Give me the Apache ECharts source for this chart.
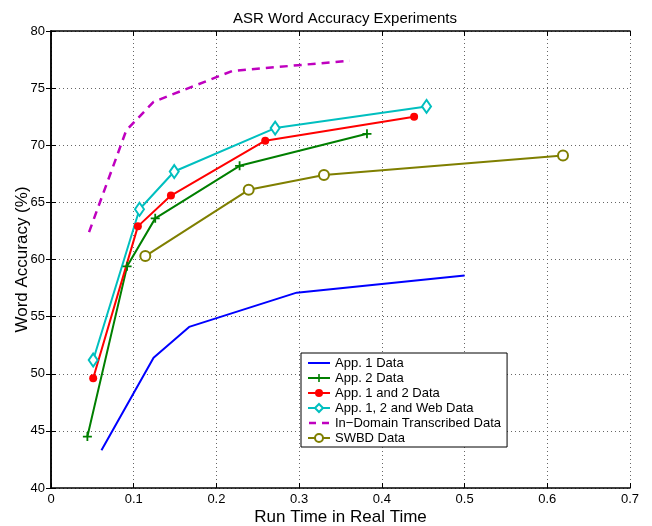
<!DOCTYPE html>
<html>
<head>
<meta charset="utf-8">
<script src="https://cdn.jsdelivr.net/npm/echarts@6/dist/echarts.min.js"></script>
<style>
  html, body { margin: 0; padding: 0; background: #fff; }
  #chart { width: 652px; height: 526px; }
</style>
</head>
<body>
<div id="chart"></div>
<script>
// values
const seriesNames = ['App. 1 Data', 'App. 2 Data', 'App. 1 and 2 Data', 'App. 1, 2 and Web Data', 'In\u2212Domain Transcribed Data', 'SWBD Data'];

const app1X = [0.061, 0.124, 0.167, 0.297, 0.500];
const app1Y = [43.3, 51.4, 54.1, 57.1, 58.6];

const app2X = [0.044, 0.092, 0.126, 0.228, 0.382];
const app2Y = [44.5, 59.4, 63.6, 68.2, 71.0];

const app12X = [0.051, 0.105, 0.145, 0.259, 0.439];
const app12Y = [49.6, 62.9, 65.6, 70.4, 72.5];

const webX = [0.051, 0.107, 0.149, 0.271, 0.454];
const webY = [51.2, 64.4, 67.7, 71.5, 73.4];

const inDomainX = [0.046, 0.091, 0.124, 0.219, 0.361];
const inDomainY = [62.4, 71.3, 73.8, 76.5, 77.4];

const swbdX = [0.114, 0.239, 0.330, 0.619];
const swbdY = [60.3, 66.1, 67.4, 69.1];

const xTicks = ['0', '0.1', '0.2', '0.3', '0.4', '0.5', '0.6', '0.7'];

function pairs(xs, ys) {
  return xs.map((x, i) => [x, ys[i]]);
}

const font = 'Liberation Sans, Arial, sans-serif';
const plus = 'path://M4,0h2v4h4v2h-4v4h-2v-4h-4v-2h4z';
// legend icons for the two unmarked lines (tiny corner dots keep the 22x10 box)
const solidIcon = 'path://M0,0h0.01v0.01h-0.01zM0,4h22v2h-22zM21.99,9.99h0.01v0.01h-0.01z';
const dashIcon = 'path://M0,0h0.01v0.01h-0.01zM1,3.75h7v2.5h-7zM14,3.75h7v2.5h-7zM21.99,9.99h0.01v0.01h-0.01z';

let myChart = echarts.init(document.getElementById('chart'));

const dotted = { show: true, lineStyle: { color: '#666', type: [1, 3], width: 1 } };

myChart.setOption({
  animation: false,
  title: {
    text: 'ASR Word Accuracy Experiments',
    left: 340,
    textAlign: 'center',
    top: 6,
    textStyle: { fontFamily: font, fontSize: 15, fontWeight: 'normal', color: '#000' }
  },
  grid: { left: 51, right: 22, top: 31, bottom: 38, outerBoundsMode: 'none', containLabel: false },
  legend: {
    orient: 'vertical',
    left: 301,
    top: 353,
    padding: [3, 6, 2, 6],
    itemGap: 1,
    itemWidth: 22,
    itemHeight: 10,
    backgroundColor: '#fff',
    borderColor: '#000',
    borderWidth: 1,
    borderRadius: 0,
    data: [
      { name: seriesNames[0], icon: solidIcon },
      seriesNames[1],
      seriesNames[2],
      seriesNames[3],
      { name: seriesNames[4], icon: dashIcon },
      seriesNames[5]
    ],
    textStyle: { fontFamily: font, fontSize: 13, color: '#000', lineHeight: 14 }
  },
  xAxis: [
    {
      type: 'value',
      min: 0, max: 0.7, interval: 0.1,
      name: 'Run Time in Real Time',
      nameLocation: 'middle',
      nameGap: 21,
      nameMoveOverlap: false,
      nameTextStyle: { fontFamily: font, fontSize: 17, color: '#000' },
      axisLine: { lineStyle: { color: '#000', width: 1.5 } },
      axisTick: { inside: true, length: 5, lineStyle: { color: '#000' } },
      axisLabel: {
        margin: 5, fontFamily: font, fontSize: 13, color: '#000',
        formatter: (v) => xTicks[Math.round(v * 10)]
      },
      splitLine: dotted
    },
    {
      type: 'value', position: 'top',
      min: 0, max: 0.7, interval: 0.1,
      axisLine: { show: true, lineStyle: { color: '#000', width: 1.5 } },
      axisTick: { inside: true, length: 5, lineStyle: { color: '#000' } },
      axisLabel: { show: false },
      splitLine: { show: false }
    }
  ],
  yAxis: [
    {
      type: 'value',
      min: 40, max: 80, interval: 5,
      name: 'Word Accuracy (%)',
      nameLocation: 'middle',
      nameGap: 20,
      nameMoveOverlap: false,
      nameTextStyle: { fontFamily: font, fontSize: 17, color: '#000' },
      axisLine: { show: true, lineStyle: { color: '#000', width: 1.5 } },
      axisTick: { show: true, inside: true, length: 5, lineStyle: { color: '#000' } },
      axisLabel: { margin: 6, fontFamily: font, fontSize: 13, color: '#000' },
      splitLine: dotted
    },
    {
      type: 'value', position: 'right',
      min: 40, max: 80, interval: 5,
      axisLine: { show: true, lineStyle: { color: '#000', width: 1.5 } },
      axisTick: { show: true, inside: true, length: 5, lineStyle: { color: '#000' } },
      axisLabel: { show: false },
      splitLine: { show: false }
    }
  ],
  series: [
    {
      name: seriesNames[0], type: 'line', data: pairs(app1X, app1Y),
      symbol: 'none', color: '#0000ff', lineStyle: { width: 2 }
    },
    {
      name: seriesNames[1], type: 'line', data: pairs(app2X, app2Y),
      symbol: plus, symbolSize: 9, color: '#007f00', lineStyle: { width: 2 }
    },
    {
      name: seriesNames[2], type: 'line', data: pairs(app12X, app12Y),
      symbol: 'circle', symbolSize: 8, color: '#ff0000', lineStyle: { width: 2 }
    },
    {
      name: seriesNames[3], type: 'line', data: pairs(webX, webY),
      symbol: 'diamond', symbolSize: [9, 13], color: '#00bfbf',
      itemStyle: { color: '#fff', borderColor: '#00bfbf', borderWidth: 2 },
      lineStyle: { width: 2, color: '#00bfbf' }
    },
    {
      name: seriesNames[4], type: 'line', data: pairs(inDomainX, inDomainY),
      symbol: 'none', color: '#bf00bf', lineStyle: { width: 2.5, type: [8, 6] }
    },
    {
      name: seriesNames[5], type: 'line', data: pairs(swbdX, swbdY),
      symbol: 'circle', symbolSize: 10, color: '#7f7f00',
      itemStyle: { color: '#fff', borderColor: '#7f7f00', borderWidth: 2 },
      lineStyle: { width: 2, color: '#7f7f00' }
    }
  ]
});
</script>
</body>
</html>
